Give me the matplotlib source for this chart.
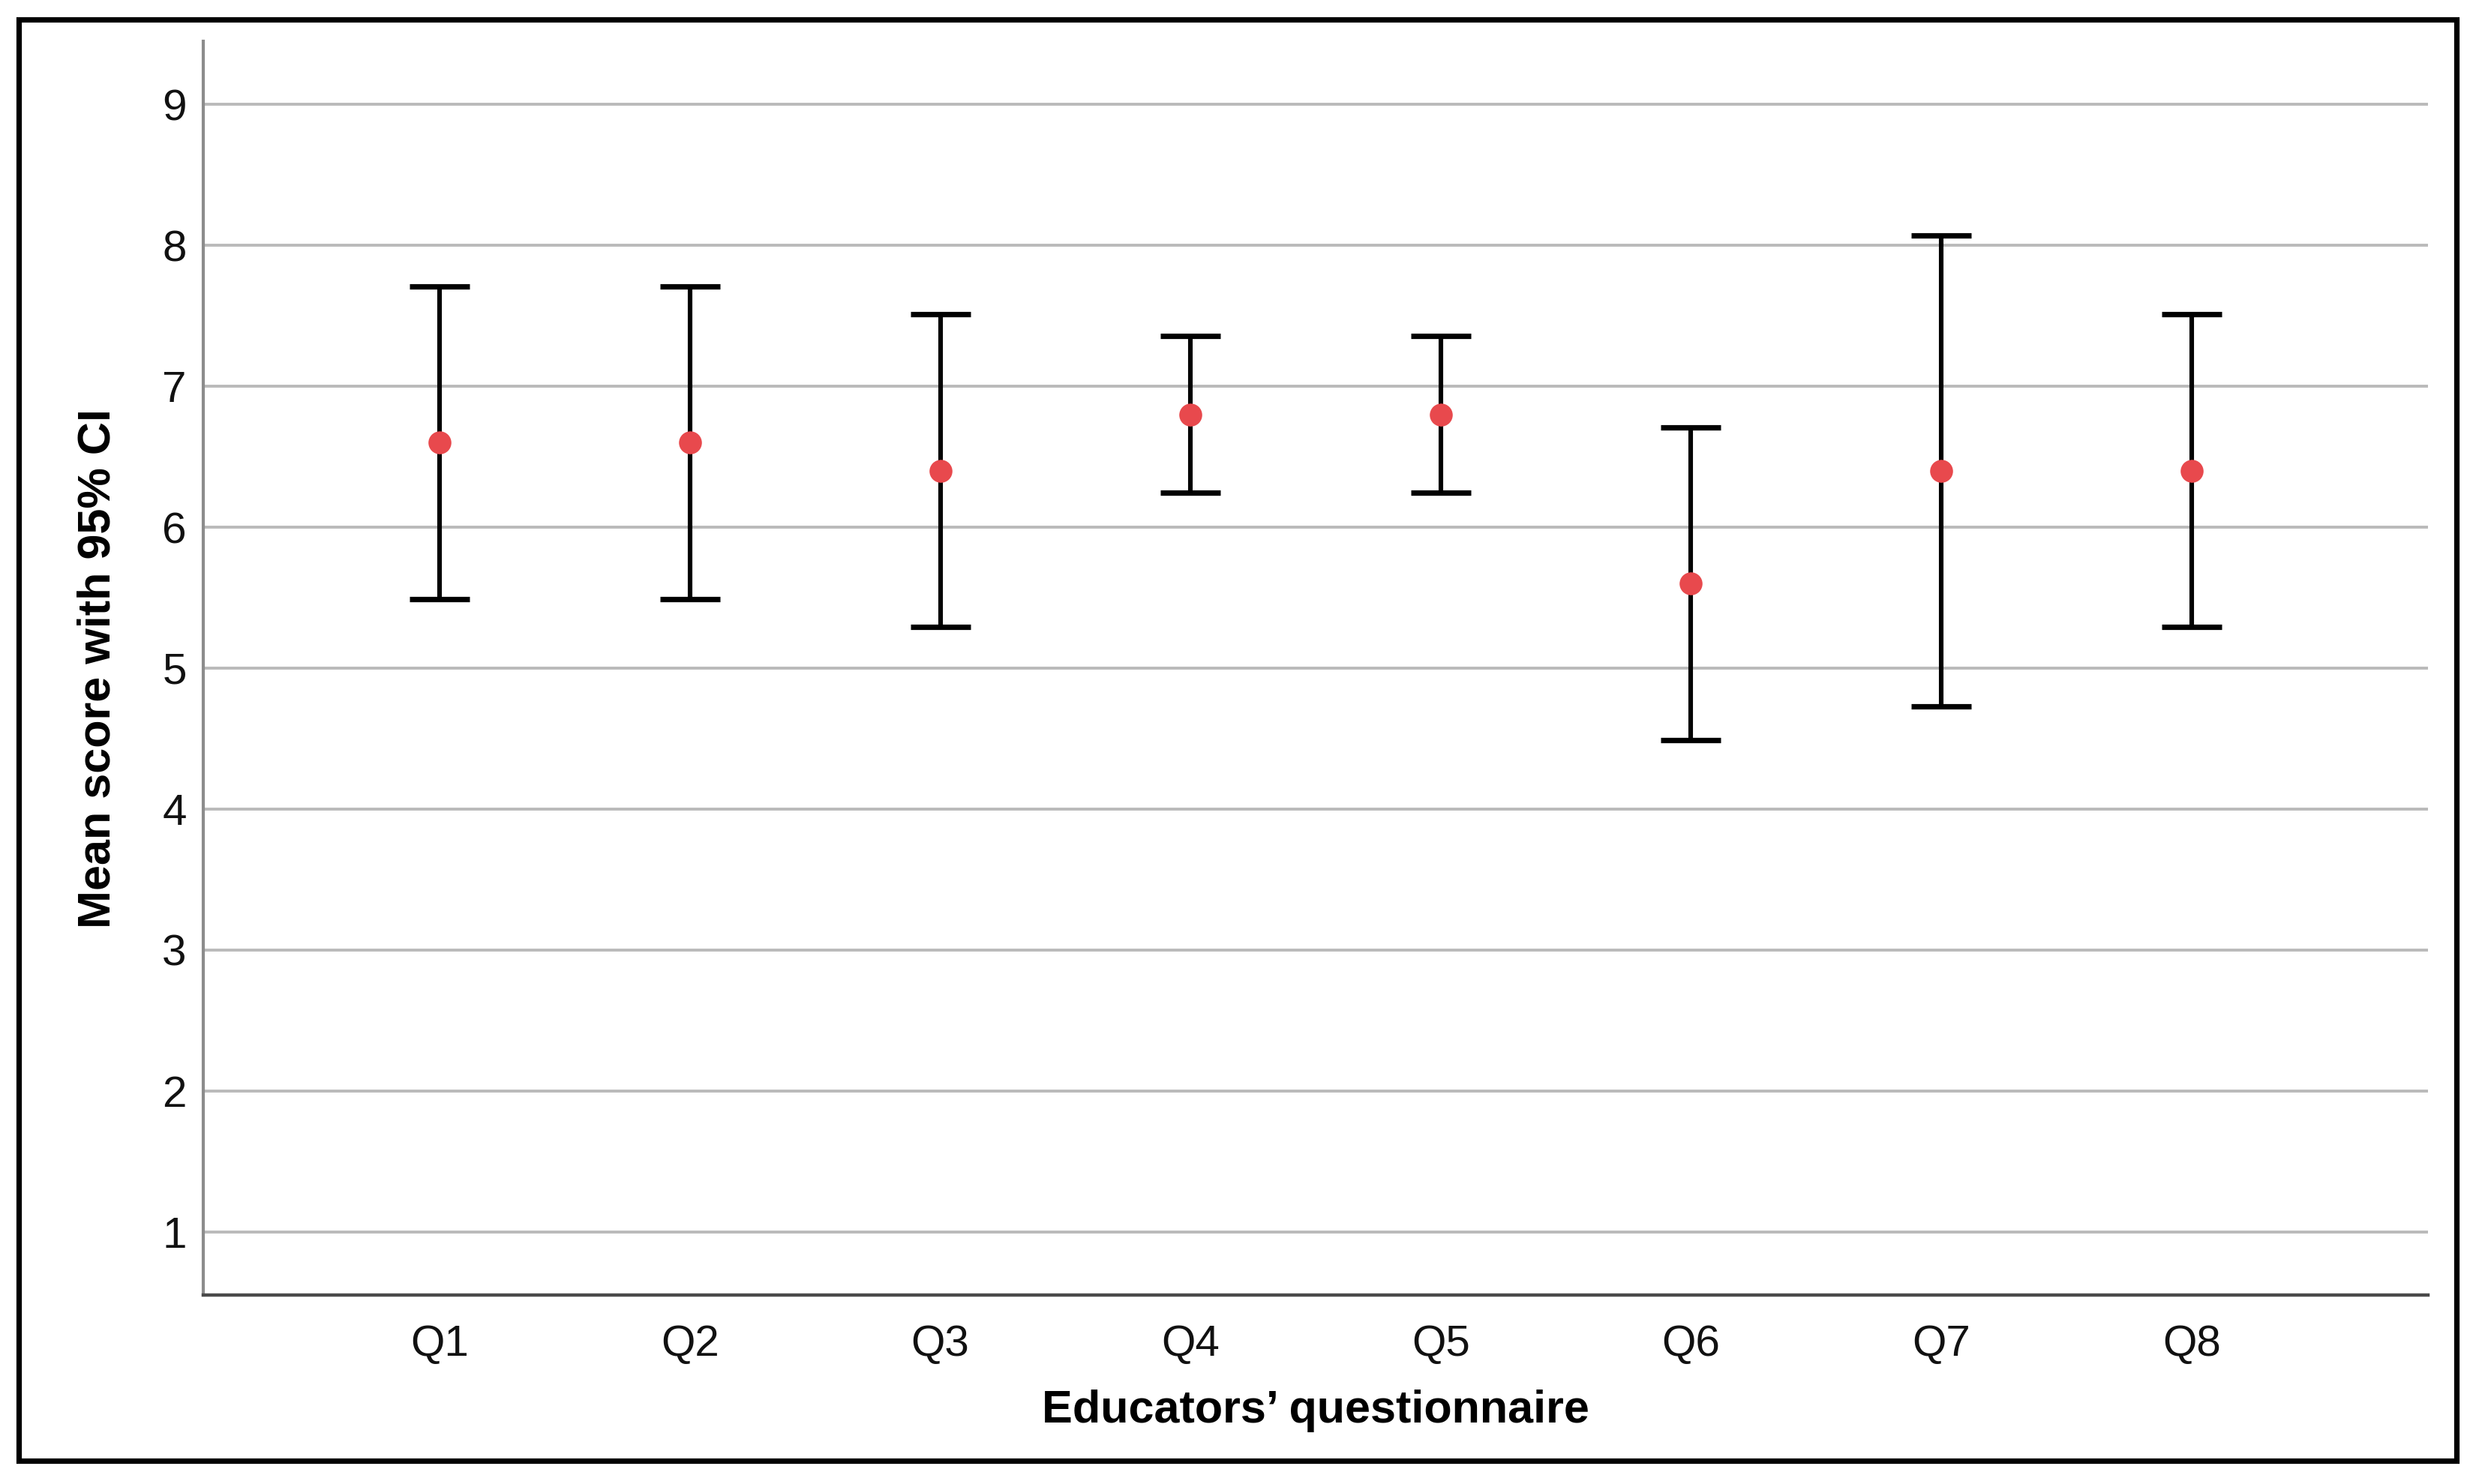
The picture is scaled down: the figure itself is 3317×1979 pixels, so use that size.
import matplotlib
matplotlib.use("Agg")
import matplotlib.pyplot as plt
from matplotlib.patches import Rectangle

# ---- data ----
questions = ["Q1", "Q2", "Q3", "Q4", "Q5", "Q6", "Q7", "Q8"]
means = [6.6, 6.6, 6.4, 6.8, 6.8, 5.6, 6.4, 6.4]
ci_lower = [5.49, 5.49, 5.29, 6.245, 6.245, 4.49, 4.73, 5.29]
ci_upper = [7.71, 7.71, 7.51, 7.355, 7.355, 6.71, 8.07, 7.51]
y_ticks = [1, 2, 3, 4, 5, 6, 7, 8, 9]

plt.rcParams['font.family'] = ['Liberation Sans', 'DejaVu Sans']

W, H, DPI = 3317, 1979, 100
fig = plt.figure(figsize=(W / DPI, H / DPI), dpi=DPI)
fig.patch.set_facecolor('white')

# axes placement (pixel measurements from reference)
ax_l, ax_r, ax_t, ax_b = 271, 3237, 55, 1727
ax = fig.add_axes([ax_l / W, 1 - ax_b / H, (ax_r - ax_l) / W, (ax_b - ax_t) / H])

x = list(range(1, len(questions) + 1))
yerr = [[m - lo for m, lo in zip(means, ci_lower)],
        [hi - m for m, hi in zip(means, ci_upper)]]

ax.errorbar(x, means, yerr=yerr, fmt='none', ecolor='black',
            elinewidth=4.4, capsize=29, capthick=5.2, zorder=3)
ax.plot(x, means, 'o', color='#E8494D', markersize=22, markeredgewidth=0, zorder=4)

ax.set_xlim(0.055, 8.945)
ax.set_ylim(0.553, 9.447)
ax.set_yticks(y_ticks)
ax.set_xticks(x)
ax.set_xticklabels(questions)

ax.grid(axis='y', color='#bababa', linewidth=2.8, zorder=0)
ax.set_axisbelow(True)

for s in ['top', 'right']:
    ax.spines[s].set_visible(False)
ax.spines['left'].set_color('#8c8c8c')
ax.spines['left'].set_linewidth(3.0)
ax.spines['bottom'].set_color('#4a4a4a')
ax.spines['bottom'].set_linewidth(3.2)

ax.tick_params(axis='y', length=0, pad=16, labelsize=42, labelcolor='#111111')
ax.tick_params(axis='x', length=0, pad=28, labelsize=42, labelcolor='#111111')

ax.set_xlabel("Educators\u2019 questionnaire", fontsize=44, fontweight='bold')
ax.xaxis.label.set_va('center')
ax.xaxis.set_label_coords(0.5, (ax_b - 1881) / (ax_b - ax_t))

ax.set_ylabel("Mean score with 95% CI", fontsize=44, fontweight='bold')
ax.yaxis.label.set_va('center')
ax.yaxis.label.set_ha('center')
ax.yaxis.set_label_coords((131 - ax_l) / (ax_r - ax_l), 0.5)

# outer frame
bx0, bx1, by0, by1 = 25, 3275, 26, 1948
fig.patches.append(Rectangle((bx0 / W, 1 - by1 / H), (bx1 - bx0) / W, (by1 - by0) / H,
                             transform=fig.transFigure, fill=False,
                             edgecolor='black', linewidth=5.2, zorder=10))

fig.savefig("out.png", dpi=DPI)
